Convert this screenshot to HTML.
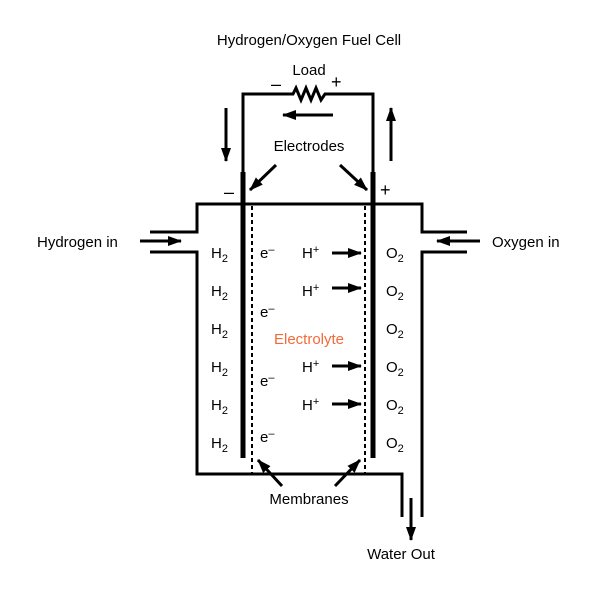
<!DOCTYPE html>
<html><head><style>
html,body{margin:0;padding:0;background:#fff;}
text{font-family:"Liberation Sans",sans-serif;font-size:15px;fill:#000;}
.s{font-size:11px;}
.b{font-size:18px;}
</style></head><body>
<svg width="610" height="586" viewBox="0 0 610 586" xmlns="http://www.w3.org/2000/svg">
<defs>
<marker id="ah2" markerWidth="14" markerHeight="10" refX="13" refY="5" orient="auto" markerUnits="userSpaceOnUse">
<path d="M0,0 L14,5 L0,10 z" fill="#000"/></marker>
</defs>
<text x="309" y="45" text-anchor="middle">Hydrogen/Oxygen Fuel Cell</text>
<text x="309" y="75" text-anchor="middle">Load</text>
<text x="271" y="90" class="b">–</text>
<text x="331" y="88" class="b">+</text>
<g fill="none" stroke="#000" stroke-width="3">
<polyline points="243,200 243,94 293,94 296,88 301,100 306,88 311,100 316,88 321,100 325,94 373,94 373,200"/>
<path d="M150,232 H197 V204 H422 V232 H467"/>
<path d="M150,252 H197 V474 H402 V517"/>
<path d="M467,252 H422 V517"/>
</g>
<g stroke="#000" stroke-width="5">
<line x1="243" y1="172" x2="243" y2="458"/>
<line x1="373" y1="172" x2="373" y2="458"/>
</g>
<g stroke="#000" stroke-width="2" stroke-dasharray="4,3">
<line x1="252" y1="206" x2="252" y2="473"/>
<line x1="365" y1="206" x2="365" y2="473"/>
</g>
<text x="224" y="198" class="b">–</text>
<text x="380" y="196" class="b">+</text>
<g stroke="#000" stroke-width="3" fill="none">
<line x1="333" y1="115" x2="283" y2="115" marker-end="url(#ah2)"/>
<line x1="226" y1="108" x2="226" y2="161" marker-end="url(#ah2)"/>
<line x1="391" y1="161" x2="391" y2="108" marker-end="url(#ah2)"/>
<line x1="276" y1="165" x2="250" y2="190" marker-end="url(#ah2)"/>
<line x1="340" y1="165" x2="367" y2="190" marker-end="url(#ah2)"/>
<line x1="282" y1="486" x2="258" y2="460" marker-end="url(#ah2)"/>
<line x1="335" y1="486" x2="360" y2="460" marker-end="url(#ah2)"/>
<line x1="411" y1="498" x2="411" y2="540" marker-end="url(#ah2)"/>
<line x1="140" y1="241" x2="181" y2="241" marker-end="url(#ah2)"/>
<line x1="480" y1="241" x2="437" y2="241" marker-end="url(#ah2)"/>
<line x1="332" y1="253" x2="361" y2="253" marker-end="url(#ah2)"/>
<line x1="332" y1="288" x2="361" y2="288" marker-end="url(#ah2)"/>
<line x1="332" y1="366" x2="361" y2="366" marker-end="url(#ah2)"/>
<line x1="332" y1="404" x2="361" y2="404" marker-end="url(#ah2)"/>
</g>
<text x="309" y="151" text-anchor="middle">Electrodes</text>
<text x="309" y="504" text-anchor="middle">Membranes</text>
<text x="401" y="559" text-anchor="middle">Water Out</text>
<text x="37" y="247">Hydrogen in</text>
<text x="492" y="247">Oxygen in</text>
<text x="309" y="344" text-anchor="middle" style="fill:#f26b3a">Electrolyte</text>
<g>
<text x="211" y="258">H<tspan class="s" dy="4">2</tspan></text>
<text x="211" y="296">H<tspan class="s" dy="4">2</tspan></text>
<text x="211" y="334">H<tspan class="s" dy="4">2</tspan></text>
<text x="211" y="372">H<tspan class="s" dy="4">2</tspan></text>
<text x="211" y="410">H<tspan class="s" dy="4">2</tspan></text>
<text x="211" y="448">H<tspan class="s" dy="4">2</tspan></text>
<text x="386" y="258">O<tspan class="s" dy="4">2</tspan></text>
<text x="386" y="296">O<tspan class="s" dy="4">2</tspan></text>
<text x="386" y="334">O<tspan class="s" dy="4">2</tspan></text>
<text x="386" y="372">O<tspan class="s" dy="4">2</tspan></text>
<text x="386" y="410">O<tspan class="s" dy="4">2</tspan></text>
<text x="386" y="448">O<tspan class="s" dy="4">2</tspan></text>
<text x="260" y="258">e<tspan class="s" dy="-5">–</tspan></text>
<text x="260" y="317">e<tspan class="s" dy="-5">–</tspan></text>
<text x="260" y="386">e<tspan class="s" dy="-5">–</tspan></text>
<text x="260" y="442">e<tspan class="s" dy="-5">–</tspan></text>
<text x="302" y="258">H<tspan class="s" dy="-5">+</tspan></text>
<text x="302" y="296">H<tspan class="s" dy="-5">+</tspan></text>
<text x="302" y="372">H<tspan class="s" dy="-5">+</tspan></text>
<text x="302" y="410">H<tspan class="s" dy="-5">+</tspan></text>
</g>
</svg>
</body></html>
